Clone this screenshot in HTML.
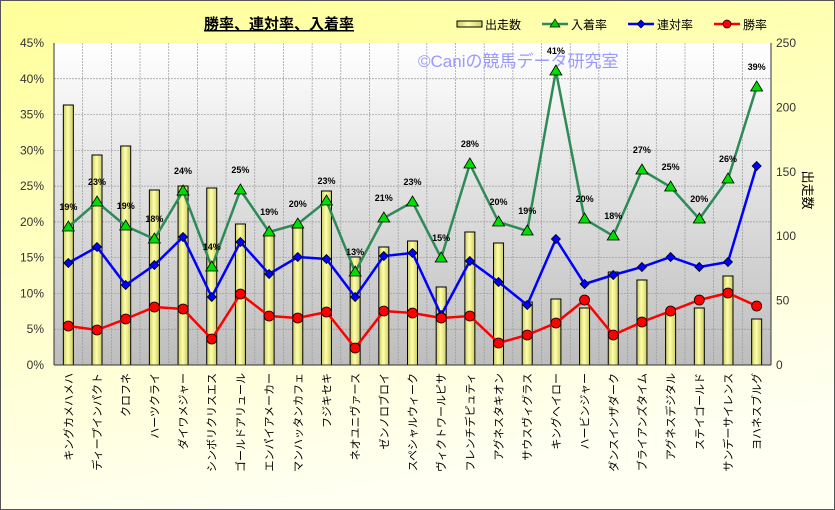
<!DOCTYPE html>
<html><head><meta charset="utf-8"><style>
html,body{margin:0;padding:0;width:835px;height:510px;overflow:hidden}
svg{display:block;font-family:"Liberation Sans","Noto Sans CJK JP",sans-serif}
</style></head><body>
<svg width="835" height="510" viewBox="0 0 835 510">
<defs>
<linearGradient id="bg" x1="0" y1="0" x2="0.3" y2="1"><stop offset="0" stop-color="#ffff99"/><stop offset="1" stop-color="#fffff2"/></linearGradient>
<linearGradient id="pl" x1="0" y1="0" x2="0" y2="1"><stop offset="0" stop-color="#ffffff"/><stop offset="1" stop-color="#bdbdbd"/></linearGradient>
<linearGradient id="bar" x1="0" y1="0" x2="1" y2="0"><stop offset="0" stop-color="#cccc66"/><stop offset="0.45" stop-color="#ffffaa"/><stop offset="1" stop-color="#cccc66"/></linearGradient>
</defs>
<rect x="0.5" y="0.5" width="834" height="509" fill="url(#bg)" stroke="#555" stroke-width="1"/>
<text x="279" y="29" font-size="15" font-weight="bold" text-anchor="middle" fill="#000" text-decoration="underline">勝率、連対率、入着率</text>
<rect x="54" y="43" width="717" height="322" fill="url(#pl)"/>
<g id="grid" stroke="#999" stroke-width="0.7" stroke-dasharray="2,1"></g>
<text x="418" y="67" font-size="17" fill="#9999ff">©Caniの競馬データ研究室</text>
<g id="bars"></g>
<g id="lines"></g>
<line x1="54" y1="43" x2="54" y2="365" stroke="#333"/>
<line x1="771" y1="43" x2="771" y2="365" stroke="#333"/>
<line x1="54" y1="365" x2="771" y2="365" stroke="#333"/>
<g id="ax" font-size="12" fill="#333"></g>
<text transform="translate(803,190) rotate(90)" font-size="13" fill="#000" text-anchor="middle">出走数</text>
<g font-size="12" fill="#000">
<rect x="457" y="21" width="25" height="6" fill="url(#bar)" stroke="#000"/><text x="485" y="29">出走数</text>
<line x1="542" y1="24" x2="568" y2="24" stroke="#2e8b57" stroke-width="2.5"/><polygon points="555,19 560,27 550,27" fill="#0c0" stroke="#000" stroke-width="0.7"/><text x="571" y="29">入着率</text>
<line x1="628" y1="24" x2="654" y2="24" stroke="#0000ff" stroke-width="2.5"/><polygon points="641,20 645,24 641,28 637,24" fill="#00f" stroke="#000" stroke-width="0.7"/><text x="657" y="29">連対率</text>
<line x1="714" y1="24" x2="740" y2="24" stroke="#f00" stroke-width="2.5"/><circle cx="727" cy="24" r="4" fill="#f00" stroke="#000" stroke-width="0.7"/><text x="743" y="29">勝率</text>
</g>
</svg>
<script>
const names=["キングカメハメハ","ディープインパクト","クロフネ","ハーツクライ","ダイワメジャー","シンボリクリスエス","ゴールドアリュール","エンパイアメーカー","マンハッタンカフェ","フジキセキ","ネオユニヴァース","ゼンノロブロイ","スペシャルウィーク","ヴィクトワールピサ","フレンチデピュティ","アグネスタキオン","サウスヴィグラス","キングヘイロー","ハービンジャー","ダンスインザダーク","ブライアンズタイム","アグネスデジタル","ステイゴールド","サンデーサイレンス","ヨハネスブルグ"];
const bars=[105,155,146,190,186,188,224,234,228,191,257,247,241,287,232,243,302,299,308,272,280,313,308,276,319];
const g=[227,202,226,239,191,267,190,232,224,201,272,218,202,258,164,222,231,71,219,236,170,187,219,179,87];
const gl=[19,23,19,18,24,14,25,19,20,23,13,21,23,15,28,20,19,41,20,18,27,25,20,26,39];
const b=[263,247,285,265,237,297,242,274,257,259,297,256,253,315,261,282,305,239,284,275,267,257,267,262,166];
const r=[326,330,319,307,309,339,294,316,318,312,348,311,313,318,316,343,335,323,300,335,322,311,300,293,306];
const NS="http://www.w3.org/2000/svg";
function el(p,t,a,txt){const e=document.createElementNS(NS,t);for(const k in a)e.setAttribute(k,a[k]);if(txt!==undefined)e.textContent=txt;document.getElementById(p).appendChild(e);return e;}
const W=717/25,cx=i=>54+W/2+W*i;
for(let k=1;k<9;k++){const y=365-k*322/9;el("grid","line",{x1:54,x2:771,y1:y,y2:y});}
for(let i=1;i<25;i++){el("grid","line",{x1:54+W*i,x2:54+W*i,y1:43,y2:365});}
for(let k=0;k<=9;k++){const y=365-k*322/9;el("ax","text",{x:44,y:y+4,"text-anchor":"end"},(k*5)+"%");}
for(let k=0;k<=5;k++){const y=365-k*322/5;el("ax","text",{x:776,y:y+4},String(k*50));}
bars.forEach((t,i)=>el("bars","rect",{x:cx(i)-5,y:t,width:10,height:365-t,fill:"url(#bar)",stroke:"#000","stroke-width":1}));
const pts=a=>a.map((y,i)=>cx(i)+","+y).join(" ");
el("lines","polyline",{points:pts(g),fill:"none",stroke:"#2e8b57","stroke-width":2.5});
el("lines","polyline",{points:pts(b),fill:"none",stroke:"#0000ff","stroke-width":2.5});
el("lines","polyline",{points:pts(r),fill:"none",stroke:"#ff0000","stroke-width":2.5});
g.forEach((y,i)=>{const x=cx(i);el("lines","polygon",{points:`${x},${y-6} ${x+6},${y+4} ${x-6},${y+4}`,fill:"#00dd00",stroke:"#000","stroke-width":0.8});
el("lines","text",{x:x,y:y-17,"font-size":"9","font-weight":"bold","text-anchor":"middle",fill:"#000"},gl[i]+"%");});
b.forEach((y,i)=>{const x=cx(i);el("lines","polygon",{points:`${x},${y-4.5} ${x+4.5},${y} ${x},${y+4.5} ${x-4.5},${y}`,fill:"#0000ff",stroke:"#000","stroke-width":0.8});});
r.forEach((y,i)=>el("lines","circle",{cx:cx(i),cy:y,r:5,fill:"#ff0000",stroke:"#000","stroke-width":0.8}));
names.forEach((n,i)=>el("ax","text",{transform:`translate(${cx(i)+4},373) rotate(-90)`,"text-anchor":"end","font-size":"11",fill:"#000"},n));
</script>
</body></html>
